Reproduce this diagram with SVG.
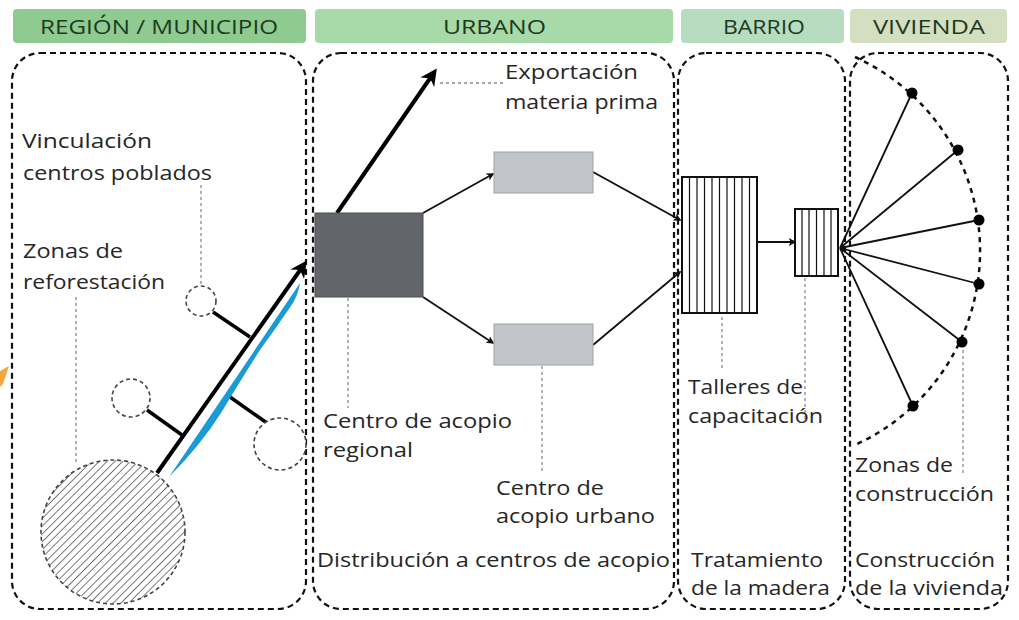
<svg xmlns="http://www.w3.org/2000/svg" width="1019" height="620" viewBox="0 0 1019 620">
<style>
.hdr{font-family:"Open Sans","Liberation Sans",sans-serif;font-size:20px;fill:#1d3a20}
.lbl{font-family:"Open Sans","Liberation Sans",sans-serif;font-size:20.5px;fill:#262626}
.zone{fill:none;stroke:#111;stroke-width:2.2;stroke-dasharray:6 4}
.lead{fill:none;stroke:#8a8a8a;stroke-width:1.3;stroke-dasharray:3 3}
.dcirc{fill:#fff;stroke:#444;stroke-width:1.6;stroke-dasharray:4 3}
.thick{fill:none;stroke:#000;stroke-width:4;marker-end:url(#bigHead)}
.thin{fill:none;stroke:#111;stroke-width:1.8;marker-end:url(#smallHead)}
.branch{fill:none;stroke:#000;stroke-width:3.5}
.fan{fill:none;stroke:#111;stroke-width:1.8}
.hbox{fill:#fff;stroke:#111;stroke-width:2}
.hl{fill:none;stroke:#111;stroke-width:1.2}
</style>
<defs>
<marker id="bigHead" viewBox="0 0 10 10" refX="6" refY="5" markerWidth="4.5" markerHeight="4.2" orient="auto" markerUnits="strokeWidth">
<path d="M0,0 L10,5 L0,10 L3,5 Z" fill="#000"/>
</marker>
<marker id="smallHead" viewBox="0 0 10 10" refX="8" refY="5" markerWidth="5" markerHeight="4.4" orient="auto" markerUnits="strokeWidth">
<path d="M0,0 L10,5 L0,10 L2.5,5 Z" fill="#111"/>
</marker>
<pattern id="diag" patternUnits="userSpaceOnUse" width="5.5" height="5.5" patternTransform="rotate(45)">
<rect width="5.5" height="5.5" fill="#fff"/>
<line x1="0" y1="0" x2="0" y2="5.5" stroke="#333" stroke-width="1.3"/>
</pattern>
</defs>

<rect width="1019" height="620" fill="#fff"/>

<g id="headers">
<rect x="13" y="9" width="293" height="34" rx="4" fill="#8fca90"/>
<text class="hdr" x="40" y="34" textLength="238" lengthAdjust="spacingAndGlyphs">REGIÓN / MUNICIPIO</text>
<rect x="315" y="9" width="358" height="34" rx="4" fill="#a8d9a8"/>
<text class="hdr" x="443" y="34" textLength="103" lengthAdjust="spacingAndGlyphs">URBANO</text>
<rect x="681" y="9" width="163" height="34" rx="4" fill="#b7dcc0"/>
<text class="hdr" x="723" y="34" textLength="82" lengthAdjust="spacingAndGlyphs">BARRIO</text>
<rect x="850" y="9" width="157" height="34" rx="4" fill="#d4dfc1"/>
<text class="hdr" x="873" y="34" textLength="112" lengthAdjust="spacingAndGlyphs">VIVIENDA</text>
</g>

<g id="zones">
<rect class="zone" x="12" y="53" width="294" height="556" rx="28"/>
<rect class="zone" x="313" y="53" width="361" height="556" rx="28"/>
<rect class="zone" x="678" y="53" width="167" height="556" rx="28"/>
<rect class="zone" x="850" y="53" width="158" height="556" rx="28"/>
</g>

<polygon points="0,371 9,366 3,384 0,387" fill="#f5a640"/>

<g id="connectors">
<path class="lead" d="M201,185 V286"/>
<path class="lead" d="M76,297 V463"/>
<path class="lead" d="M440,83 H505"/>
<path class="lead" d="M348,298 V408"/>
<path class="lead" d="M542,366 V473"/>
<path class="lead" d="M722,317 V368"/>
<path class="lead" d="M805,278 V422"/>
<path class="lead" d="M963,350 V475"/>
<path class="branch" d="M213,312 L250,337"/>
<path class="branch" d="M147,410 L182,435"/>
<path class="branch" d="M230,397 L267,423"/>
<path class="thick" d="M157,473 L303,266"/>
<path class="thick" d="M337,213 L433,74"/>
<path class="thin" d="M423,213 L493,174"/>
<path class="thin" d="M423,297 L493,343"/>
<path class="thin" d="M593,172 L680,220"/>
<path class="thin" d="M593,345 L680,272"/>
<path class="thin" d="M757,242 L795,242"/>
<path class="fan" d="M840,248 L912,93 M840,248 L958,150 M840,248 L979,220 M840,248 L979,284 M840,248 L962,342 M840,248 L913,406"/>
</g>

<path id="river" d="M169,477 L300,283 Q298,296 291,306 Q276,328 260,350 Q242,378 221,413 Q200,446 169,477 Z" fill="#1a9bd7"/>

<g id="reforestacion">
<circle cx="113" cy="532" r="72" fill="url(#diag)" stroke="#444" stroke-width="1.6" stroke-dasharray="4 3"/>
</g>
<g id="poblado1"><circle class="dcirc" cx="201" cy="301" r="15"/></g>
<g id="poblado2"><circle class="dcirc" cx="131" cy="398" r="19"/></g>
<g id="poblado3"><circle class="dcirc" cx="280" cy="444" r="26"/></g>

<g id="acopio-regional">
<rect x="315" y="213" width="108" height="84" fill="#62666b" stroke="#4a4d52" stroke-width="1"/>
</g>
<g id="acopio-urbano-1">
<rect x="494" y="152" width="99" height="41" fill="#c2c5c9" stroke="#9ea2a6" stroke-width="1"/>
</g>
<g id="acopio-urbano-2">
<rect x="494" y="324" width="99" height="41" fill="#c2c5c9" stroke="#9ea2a6" stroke-width="1"/>
</g>

<g id="tratamiento">
<rect class="hbox" x="682" y="177" width="75" height="136"/>
<path class="hl" d="M689.5,177V313 M697,177V313 M704.5,177V313 M712,177V313 M719.5,177V313 M727,177V313 M734.5,177V313 M742,177V313 M749.5,177V313"/>
</g>
<g id="talleres">
<rect class="hbox" x="795" y="209" width="43" height="67"/>
<path class="hl" d="M802,209V276 M809,209V276 M816.5,209V276 M824,209V276 M831,209V276"/>
</g>

<g id="vivienda">
<path d="M855,57 A213,213 0 0 1 855,445" fill="none" stroke="#111" stroke-width="2.5" stroke-dasharray="5 5"/>
<circle cx="912" cy="93" r="5.5" fill="#000"/>
<circle cx="958" cy="150" r="5.5" fill="#000"/>
<circle cx="979" cy="220" r="5.5" fill="#000"/>
<circle cx="979" cy="284" r="5.5" fill="#000"/>
<circle cx="962" cy="342" r="5.5" fill="#000"/>
<circle cx="913" cy="406" r="5.5" fill="#000"/>
</g>

<g id="labels">
<text class="lbl" x="22" y="148" textLength="130" lengthAdjust="spacingAndGlyphs">Vinculación</text>
<text class="lbl" x="23" y="180" textLength="189" lengthAdjust="spacingAndGlyphs">centros poblados</text>
<text class="lbl" x="23" y="258" textLength="100" lengthAdjust="spacingAndGlyphs">Zonas de</text>
<text class="lbl" x="23" y="289" textLength="142" lengthAdjust="spacingAndGlyphs">reforestación</text>
<text class="lbl" x="505" y="79" textLength="133" lengthAdjust="spacingAndGlyphs">Exportación</text>
<text class="lbl" x="505" y="109" textLength="153" lengthAdjust="spacingAndGlyphs">materia prima</text>
<text class="lbl" x="323" y="428" textLength="189" lengthAdjust="spacingAndGlyphs">Centro de acopio</text>
<text class="lbl" x="323" y="457" textLength="90" lengthAdjust="spacingAndGlyphs">regional</text>
<text class="lbl" x="496" y="495" textLength="108" lengthAdjust="spacingAndGlyphs">Centro de</text>
<text class="lbl" x="496" y="523" textLength="159" lengthAdjust="spacingAndGlyphs">acopio urbano</text>
<text class="lbl" x="317" y="567" textLength="353" lengthAdjust="spacingAndGlyphs">Distribución a centros de acopio</text>
<text class="lbl" x="688" y="394" textLength="115" lengthAdjust="spacingAndGlyphs">Talleres de</text>
<text class="lbl" x="688" y="423" textLength="135" lengthAdjust="spacingAndGlyphs">capacitación</text>
<text class="lbl" x="691" y="567" textLength="132" lengthAdjust="spacingAndGlyphs">Tratamiento</text>
<text class="lbl" x="691" y="595" textLength="139" lengthAdjust="spacingAndGlyphs">de la madera</text>
<text class="lbl" x="855" y="472" textLength="98" lengthAdjust="spacingAndGlyphs">Zonas de</text>
<text class="lbl" x="855" y="501" textLength="139" lengthAdjust="spacingAndGlyphs">construcción</text>
<text class="lbl" x="855" y="567" textLength="140" lengthAdjust="spacingAndGlyphs">Construcción</text>
<text class="lbl" x="855" y="595" textLength="148" lengthAdjust="spacingAndGlyphs">de la vivienda</text>
</g>
</svg>
